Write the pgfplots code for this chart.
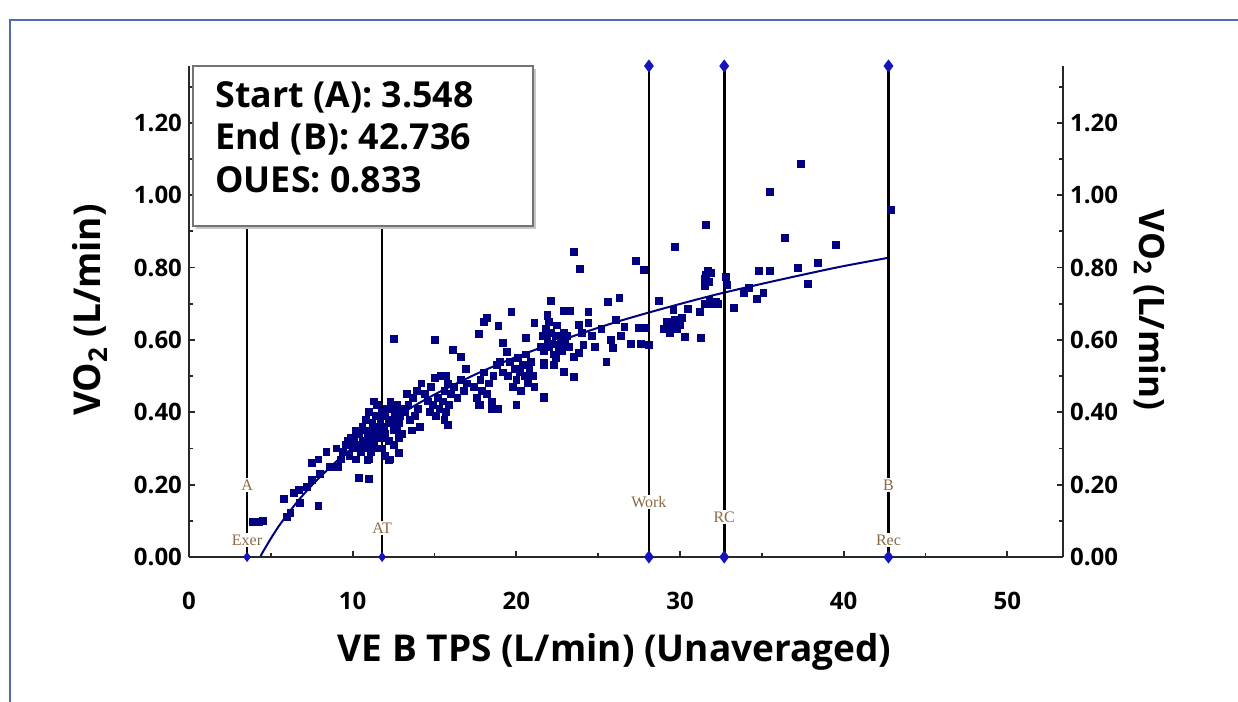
\documentclass[border=0pt]{standalone}
\usepackage{pgfplots}
\pgfplotsset{compat=1.18}
\usepackage{fontspec}
\setmainfont{Open Sans}
\newfontfamily\lblfont{Liberation Serif}
\definecolor{ptnavy}{RGB}{0,0,128}
\definecolor{mkblue}{RGB}{20,20,190}
\definecolor{framecol}{RGB}{80,110,170}
\definecolor{lblcol}{RGB}{140,105,70}
\definecolor{axcol}{RGB}{40,40,40}
\begin{document}
\begin{tikzpicture}
\useasboundingbox (0,0) rectangle (619pt,351pt);
\fill[white] (0,0) rectangle (619pt,351pt);
\draw[framecol, line width=1.2pt] (5pt,0) -- (5pt,341pt) -- (619pt,341pt);
\begin{axis}[
  at={(94.5pt,72.5pt)}, anchor=south west,
  scale only axis, width=437pt, height=245.5pt,
  xmin=0, xmax=53.4, ymin=0, ymax=1.357,
  axis x line*=bottom, axis y line*=left,
  axis line style={axcol, line width=1.1pt},
  clip=false,
  xtick={0,10,20,30,40,50},
  minor xtick={5,15,25,35,45},
  ytick={0,0.2,0.4,0.6,0.8,1.0,1.2},
  minor ytick={0.1,0.3,0.5,0.7,0.9,1.1,1.3},
  tick align=inside,
  major tick length=3pt, minor tick length=2pt,
  every tick/.style={axcol, line width=0.9pt},
  /pgf/number format/assume math mode=true,
  tick label style={font=\bfseries\fontsize{12}{14}\selectfont},
  yticklabel style={/pgf/number format/.cd, fixed, fixed zerofill, precision=2},
  xticklabel style={yshift=-14pt},
  every axis x label/.style={at={(axis description cs:0.487,-0.1935)}, anchor=center},
  every axis y label/.style={at={(axis description cs:-0.113,0.503)}, rotate=90, anchor=center},
  xlabel={VE B TPS (L/min) (Unaveraged)},
  ylabel={VO\textsubscript{2} (L/min)},
  label style={font=\bfseries\fontsize{18.5}{20}\selectfont},
]
% scatter
\addplot[only marks, mark=square*, mark size=1.7pt, color=ptnavy] coordinates {
(3.9,0.097)(4.1,0.097)(4.3,0.097)(4.5,0.099)
(5.8,0.160)(6.0,0.110)(6.2,0.122)(6.4,0.177)(6.7,0.185)(6.8,0.150)(7.2,0.194)(7.5,0.213)(7.9,0.141)
(7.5,0.260)(7.9,0.270)(8.0,0.230)(8.4,0.290)(8.6,0.250)(9.0,0.300)(9.1,0.250)(9.3,0.270)
(10.4,0.218)(11.0,0.216)(10.9,0.268)(12.2,0.268)(12.8,0.288)
(9.4,0.29)(9.6,0.31)(9.8,0.28)(9.9,0.33)(10.0,0.30)(10.1,0.32)(10.2,0.27)(10.3,0.31)(10.4,0.34)
(10.5,0.29)(10.6,0.32)(10.7,0.30)(10.8,0.35)(10.9,0.33)(11.0,0.31)(11.1,0.29)(11.2,0.34)(11.3,0.32)
(11.4,0.36)(11.5,0.30)(11.6,0.33)(9.7,0.32)(10.2,0.35)(10.6,0.36)(11.0,0.27)
(10.8,0.38)(11.0,0.40)(11.2,0.37)(11.4,0.39)(11.5,0.42)(11.6,0.35)(11.7,0.38)(11.8,0.40)(11.9,0.36)
(12.0,0.39)(12.1,0.41)(12.2,0.37)(12.3,0.43)(12.4,0.38)(12.5,0.35)(12.6,0.40)(12.7,0.42)(12.8,0.37)
(12.9,0.39)(13.0,0.41)(11.3,0.43)(12.0,0.34)(12.4,0.42)(11.1,0.35)(12.7,0.36)
(11.8,0.30)(12.0,0.28)(12.2,0.32)(12.5,0.31)(12.8,0.33)(12.3,0.27)(13.0,0.34)(11.9,0.33)
(13.2,0.40)(13.4,0.42)(13.5,0.38)(13.7,0.44)(13.9,0.46)(14.0,0.41)(14.2,0.48)(14.4,0.45)(14.6,0.43)
(14.8,0.47)(13.3,0.45)(13.8,0.39)(14.1,0.36)(13.6,0.35)
(14.7,0.40)(14.9,0.42)(15.1,0.39)(15.3,0.41)(15.5,0.43)(15.7,0.40)(15.9,0.42)(15.2,0.44)(15.6,0.38)(15.8,0.365)
(15.6,0.46)(15.8,0.48)(16.0,0.45)(16.2,0.47)(16.4,0.44)(16.6,0.49)(16.8,0.46)(17.0,0.48)(15.4,0.50)(15.7,0.50)(15.0,0.495)
(17.4,0.47)(17.6,0.44)(17.8,0.49)(17.9,0.46)(18.0,0.51)(18.2,0.45)(18.3,0.48)(18.5,0.43)(18.6,0.50)(17.7,0.42)(18.5,0.41)(18.9,0.41)
(19.5,0.50)(19.6,0.54)(19.8,0.47)(19.9,0.52)(20.0,0.49)(20.1,0.55)(20.2,0.51)(20.3,0.46)(20.4,0.53)
(20.5,0.50)(20.6,0.56)(20.7,0.48)(20.8,0.52)(20.9,0.54)(21.0,0.50)(21.1,0.47)(20.0,0.42)(21.7,0.44)
(21.5,0.58)(21.6,0.61)(21.7,0.57)(21.8,0.63)(21.9,0.60)(22.0,0.58)(22.1,0.62)(22.2,0.59)(22.3,0.56)
(22.4,0.61)(22.5,0.64)(22.6,0.58)(22.7,0.60)(22.8,0.57)(22.9,0.62)(23.0,0.59)(23.1,0.61)(23.2,0.58)
(22.0,0.65)(22.4,0.55)(21.9,0.67)(22.9,0.68)(23.3,0.68)(21.7,0.53)(22.3,0.53)
(12.5,0.603)(15.0,0.600)(18.2,0.661)(18.0,0.650)(18.9,0.639)(19.7,0.677)(17.7,0.617)(21.1,0.647)
(20.6,0.605)(16.1,0.572)(16.6,0.553)(16.9,0.520)(19.2,0.592)(19.4,0.567)(21.7,0.536)(22.3,0.531)
(21.7,0.442)(20.0,0.420)(18.5,0.410)(17.8,0.420)(15.8,0.365)(19.0,0.540)(18.8,0.530)(19.2,0.510)
(23.5,0.843)(23.9,0.796)(27.3,0.818)(27.8,0.793)(29.7,0.857)(22.1,0.708)(26.3,0.716)(25.6,0.705)
(28.7,0.708)(21.9,0.666)(22.9,0.680)(23.3,0.680)(24.4,0.677)(24.4,0.647)(23.8,0.641)(26.1,0.655)
(26.6,0.636)(27.5,0.633)(27.9,0.633)(29.6,0.683)(30.5,0.686)(31.2,0.677)(31.9,0.700)(32.3,0.700)
(29.0,0.63)(29.2,0.65)(29.4,0.62)(29.5,0.64)(29.7,0.655)(29.8,0.63)(30.0,0.64)(30.1,0.66)(29.3,0.635)
(30.3,0.608)(31.3,0.605)(23.5,0.553)(23.8,0.564)(24.8,0.580)(25.8,0.600)(26.4,0.610)(27.0,0.590)
(27.6,0.590)(28.1,0.586)(25.9,0.578)(24.1,0.586)(25.5,0.539)(22.9,0.511)(23.5,0.498)(21.7,0.530)
(22.3,0.530)(24.0,0.620)(24.6,0.610)(25.2,0.630)
(37.4,1.087)(35.5,1.009)(31.6,0.918)(36.4,0.882)(39.5,0.863)(42.9,0.959)(38.4,0.813)(37.2,0.799)
(35.5,0.791)(34.8,0.791)(37.8,0.755)(35.1,0.730)(34.7,0.713)(33.9,0.730)(33.3,0.688)(32.8,0.774)
(32.9,0.752)(31.5,0.770)(31.6,0.780)(31.7,0.790)(31.8,0.760)(31.5,0.750)(31.6,0.765)(31.9,0.785)
(31.5,0.700)(31.8,0.710)(32.2,0.705)(34.2,0.744)
};
% OUES fit line
\addplot[ptnavy, line width=1pt, smooth] coordinates {
(4.38,0.003)(4.45,0.009)(5,0.051)(5.5,0.086)(6,0.117)(6.5,0.146)(7,0.173)(7.5,0.198)(8,0.221)(9,0.264)
(10,0.302)(11,0.336)(12,0.368)(13,0.397)(14,0.424)(15,0.449)(16,0.472)(17,0.494)(18,0.515)(20,0.553)
(23,0.603)(26,0.648)(29,0.687)(32,0.723)(35,0.755)(38,0.785)(40,0.804)(42.736,0.827)
};
% event lines A and AT (top ends hidden by the box)
\pgfplotsinvokeforeach{3.548,11.8}{
  \addplot[black, line width=1.3pt] coordinates {(#1,0) (#1,1.357)};
  \addplot[only marks, mark=diamond*, mark size=2.2pt, mark options={fill=mkblue, draw=mkblue}] coordinates {(#1,0)};
}
% event lines Work, RC, B
\pgfplotsinvokeforeach{28.1,32.7,42.736}{
  \addplot[black, line width=1.3pt, mark=diamond*, mark size=2.2pt, mark options={fill=mkblue, draw=mkblue}] coordinates {(#1,0) (#1,1.357)};
}
\begin{scope}[every node/.style={fill=white, inner sep=0.8pt, text=lblcol, font=\lblfont\fontsize{8}{8}\selectfont}]
\node at (axis cs:3.548,0.199) {A};
\node at (axis cs:3.548,0.047) {Exer};
\node at (axis cs:11.8,0.080) {AT};
\node at (axis cs:28.1,0.152) {Work};
\node at (axis cs:32.7,0.111) {RC};
\node at (axis cs:42.736,0.199) {B};
\node at (axis cs:42.736,0.047) {Rec};
\end{scope}
\end{axis}
\begin{axis}[
  at={(94.5pt,72.5pt)}, anchor=south west,
  scale only axis, width=437pt, height=245.5pt,
  xmin=0, xmax=53.4, ymin=0, ymax=1.357,
  axis x line=none, axis y line*=right,
  axis line style={axcol, line width=1.1pt},
  ytick={0,0.2,0.4,0.6,0.8,1.0,1.2},
  minor ytick={0.1,0.3,0.5,0.7,0.9,1.1,1.3},
  tick align=inside,
  major tick length=3pt, minor tick length=2pt,
  every tick/.style={axcol, line width=0.9pt},
  /pgf/number format/assume math mode=true,
  tick label style={font=\bfseries\fontsize{12}{14}\selectfont},
  yticklabel style={/pgf/number format/.cd, fixed, fixed zerofill, precision=2},
  every axis y label/.style={at={(axis description cs:1.0995,0.503)}, rotate=-90, anchor=center},
  ylabel={VO\textsubscript{2} (L/min)},
  label style={font=\bfseries\fontsize{17.5}{20}\selectfont},
]
\end{axis}
% statistics box
\fill[black!22] (98pt,236.5pt) rectangle (268pt,316.5pt);
\filldraw[fill=white, draw=black!55, line width=0.6pt] (96.5pt,238pt) rectangle (266.5pt,318pt);
\begin{scope}[every node/.style={anchor=base west, inner sep=0pt, font=\bfseries\fontsize{17.9}{21}\selectfont}]
\node at (107.5pt,297pt) {Start (A): 3.548};
\node at (107.5pt,276pt) {End (B): 42.736};
\node at (107.5pt,254.5pt) {OUES: 0.833};
\end{scope}
\end{tikzpicture}
\end{document}
